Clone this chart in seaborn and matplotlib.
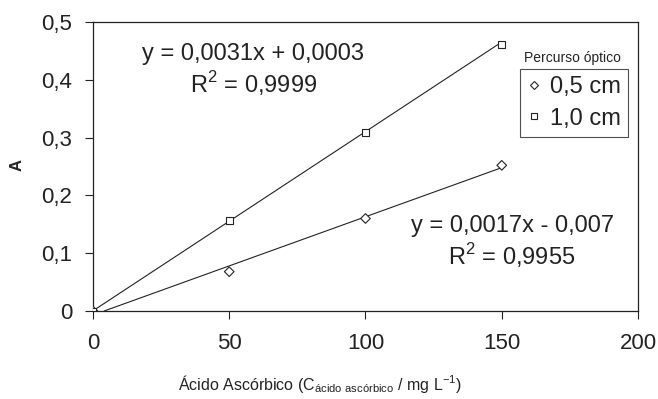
import numpy as np
import pandas as pd
import seaborn as sns
import matplotlib.pyplot as plt
from matplotlib.lines import Line2D

# concentracao de acido ascorbico (mg/L)
conc = [0, 50, 100, 150]
abs_05 = [0.0, 0.068, 0.160, 0.252]
abs_10 = [0.0, 0.157, 0.309, 0.461]
series = ["0,5 cm", "1,0 cm"]

# coeficientes das retas (inclinacao, intercepto)
fit_05 = (0.0017, -0.007)
fit_10 = (0.0031, 0.0003)

df = pd.DataFrame({
    "conc": conc * 2,
    "A": abs_05 + abs_10,
    "Percurso": [series[0]] * 4 + [series[1]] * 4,
})

sns.set_style("ticks")
plt.rcParams["font.family"] = ["Liberation Sans", "DejaVu Sans"]

fig = plt.figure(figsize=(6.58, 3.99), dpi=100)
ax = fig.add_axes([0.1413, 0.2206, 0.8283, 0.7243])

# linhas de tendencia (cortadas em y = 0)
for (m, b) in [fit_05, fit_10]:
    x0 = max(0, -b / m)
    xs = np.array([x0, 150])
    sns.lineplot(x=xs, y=m * xs + b, ax=ax, color="#222222", lw=0.8)

sns.scatterplot(data=df, x="conc", y="A", style="Percurso",
                markers={"0,5 cm": "D", "1,0 cm": "s"}, s=24,
                facecolor="white", edgecolor="#222222", linewidth=0.8,
                ax=ax, zorder=3, legend=False)

ax.set_xlim(0, 200)
ax.set_ylim(0, 0.5)
ax.set_xticks([0, 50, 100, 150, 200])
ax.set_yticks([0, 0.1, 0.2, 0.3, 0.4, 0.5])
ax.set_yticklabels(["0", "0,1", "0,2", "0,3", "0,4", "0,5"])
ax.tick_params(labelsize=16, length=6, width=0.8, color="#222222",
               labelcolor="#222222")
ax.tick_params(axis="y", pad=9)
ax.tick_params(axis="x", pad=10)
for sp in ax.spines.values():
    sp.set_visible(True)
    sp.set_linewidth(0.9)
    sp.set_color("#222222")

ax.set_xlabel("Ácido Ascórbico (C$_{\\mathregular{ácido\\ ascórbico}}$ / mg L$^{\\mathregular{-1}}$)",
              fontsize=11.5, color="#222222")
ax.xaxis.set_label_coords(0.416, -0.215)
ax.set_ylabel("A", fontsize=12, fontweight="bold", color="#222222")
ax.yaxis.set_label_coords(-0.125, 0.505)

txt = dict(ha="center", va="baseline", fontsize=17, color="#222222")
ax.text(58.7, 0.434, "y = 0,0031x + 0,0003", **txt)
ax.text(59, 0.377, "R$^{\\mathregular{2}}$ = 0,9999", **txt)
ax.text(153.8, 0.1367, "y = 0,0017x - 0,007", **txt)
ax.text(153.8, 0.0796, "R$^{\\mathregular{2}}$ = 0,9955", **txt)

# legenda manual
handles = [Line2D([], [], marker="D", ls="none", mfc="white", mec="#222222", ms=4, mew=0.8),
           Line2D([], [], marker="s", ls="none", mfc="white", mec="#222222", ms=4, mew=0.8)]
leg = ax.legend(handles, series, loc="upper left", bbox_to_anchor=(0.783, 0.837),
                fontsize=17, frameon=True, fancybox=False, handlelength=0.6,
                handletextpad=0.4, borderpad=0.3, labelspacing=0.4, borderaxespad=0)
leg.get_frame().set_edgecolor("#222222")
leg.get_frame().set_linewidth(0.8)
for t in leg.get_texts():
    t.set_color("#222222")
ax.text(0.880, 0.875, "Percurso óptico", transform=ax.transAxes, ha="center",
        va="center", fontsize=10, color="#222222")

fig.savefig("out.png", dpi=100)
